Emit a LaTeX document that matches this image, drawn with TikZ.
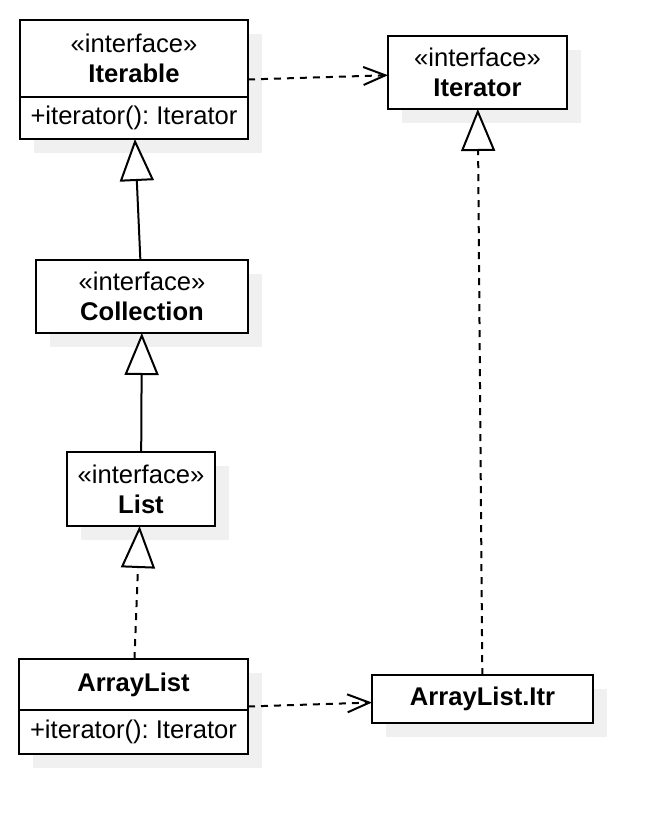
\documentclass[tikz,border=0pt]{standalone}
\usepackage{fontspec}
\setmainfont{Liberation Sans}
\frenchspacing
\usetikzlibrary{arrows.meta,positioning,shadows,calc}
\tikzstyle{cls} = [draw, line width=1pt, fill=white, outer sep=0pt, inner sep=2pt, align=center, font=\fontsize{12.8}{15}\selectfont, drop shadow={shadow xshift=7pt, shadow yshift=-7pt, fill=black!6, opacity=1}]
\tikzstyle{generalize} = [line width=1pt, -{Triangle[length=21pt, width=17pt, fill=white]}]
\tikzstyle{realize} = [generalize, dash pattern=on 3.5pt off 3pt]
\tikzstyle{depend} = [line width=1pt, dash pattern=on 3.5pt off 3pt, -{Straight Barb[length=11pt, width=9pt]}]

\begin{document}
\begin{tikzpicture}[x=0.5pt, y=-0.5pt]
    \useasboundingbox (0,0) rectangle (672,834);
    % classes
    \node[cls, anchor=north west, minimum width=114pt, minimum height=38.5pt] (iterable) at (20,20) {«interface»\\\textbf{Iterable}};
    \node[cls, below=0pt of iterable, minimum width=114pt, minimum height=21pt] (iterableops) {+iterator(): Iterator};
    \node[cls, anchor=north west, minimum width=89.5pt, minimum height=36.5pt] (iterator) at (388,36) {«interface»\\\textbf{Iterator}};
    \node[cls, anchor=north west, minimum width=106pt, minimum height=36.5pt] (collection) at (36,260) {«interface»\\\textbf{Collection}};
    \node[cls, anchor=north west, minimum width=74pt, minimum height=37pt] (list) at (67,452) {«interface»\\\textbf{List}};
    \node[cls, anchor=north west, minimum width=114.5pt, minimum height=25.5pt] (arraylist) at (19,659) {\textbf{ArrayList}};
    \node[cls, below=0pt of arraylist, minimum width=114.5pt, minimum height=22pt] (arraylistops) {+iterator(): Iterator};
    \node[cls, anchor=north west, minimum width=110.5pt, minimum height=24pt] (itr) at (372,675) {\textbf{ArrayList.Itr}};
    \coordinate (iterablemid) at ($(iterable.north east)!.5!(iterableops.south east)$);
    \coordinate (arraylistmid) at ($(arraylist.north east)!.5!(arraylistops.south east)$);
    % relations
    \draw[generalize] (collection) -- (iterableops);
    \draw[generalize] (list) -- (collection);
    \draw[realize] (arraylist) -- (list);
    \draw[realize] (itr) -- (iterator);
    \draw[depend] (iterablemid) -- (iterator);
    \draw[depend] (arraylistmid) -- (itr);
\end{tikzpicture}
\end{document}
